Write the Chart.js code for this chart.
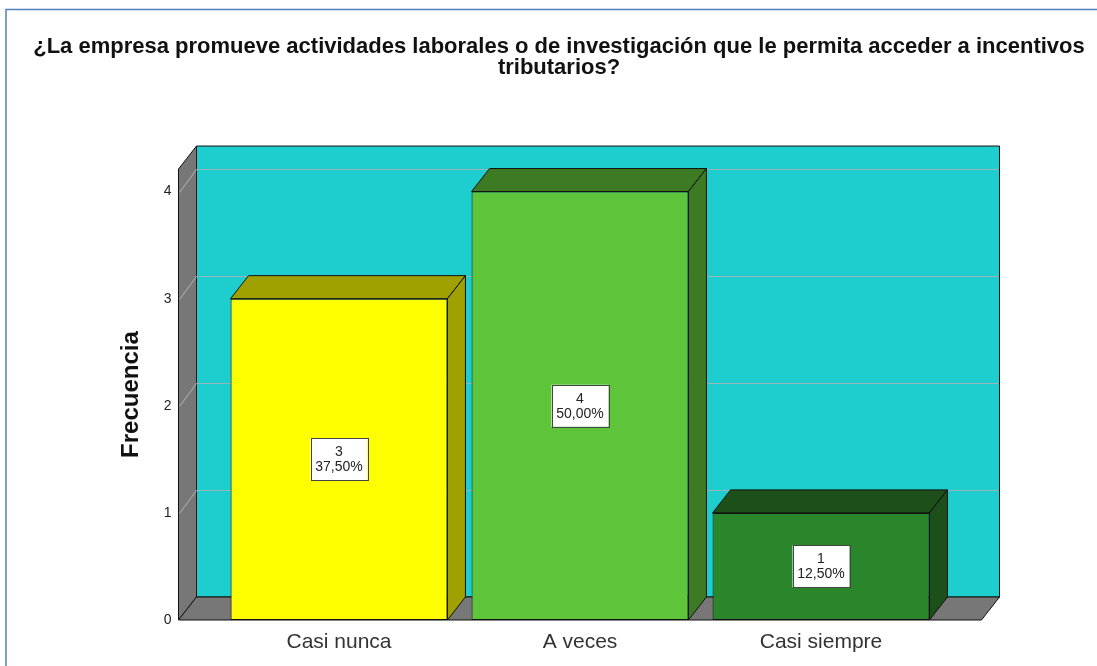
<!DOCTYPE html>
<html>
<head>
<meta charset="utf-8">
<script src="https://cdn.jsdelivr.net/npm/chart.js@4"></script>
<style>
html, body { margin: 0; padding: 0; background: #fff; }
</style>
</head>
<body>
<canvas id="grafico" width="1097" height="666"></canvas>
<script>
// datos
var categorias = ["Casi nunca", "A veces", "Casi siempre"];
var frecuencias = [3, 4, 1];
var ticksY = [0, 1, 2, 3, 4];
var maxY = 4.21;

// estilos
var colorFrente = ["#ffff00", "#5ec43a", "#2a862a"];
var colorLado = ["#a0a000", "#3c7a24", "#1c4f19"];
var DX = 18, DY = -23;      // profundidad 3D
var MARGEN = 40;            // ancho del suelo fuera de las barras
var fuente = "'Liberation Sans', Arial, sans-serif";

var total = frecuencias.reduce(function (a, b) { return a + b; }, 0);

function poligono(ctx, pts, relleno) {
  ctx.beginPath();
  ctx.moveTo(pts[0][0], pts[0][1]);
  for (var i = 1; i < pts.length; i++) ctx.lineTo(pts[i][0], pts[i][1]);
  ctx.closePath();
  ctx.fillStyle = relleno;
  ctx.fill();
  ctx.strokeStyle = "#111";
  ctx.lineWidth = 1;
  ctx.stroke();
}

var caja3d = {
  id: "caja3d",
  beforeDraw: function (chart) {
    var ctx = chart.ctx;
    ctx.save();
    ctx.fillStyle = "#fff";
    ctx.fillRect(0, 0, chart.width, chart.height);
    ctx.strokeStyle = "#4f81bd";
    ctx.lineWidth = 1.5;
    ctx.beginPath();
    ctx.moveTo(6, chart.height);
    ctx.lineTo(6, 9.5);
    ctx.lineTo(chart.width, 9.5);
    ctx.stroke();
    ctx.restore();
  },
  beforeDatasetsDraw: function (chart) {
    var ctx = chart.ctx, ys = chart.scales.y, a = chart.chartArea;
    var L = a.left - MARGEN, R = a.right + MARGEN;
    var y0 = ys.getPixelForValue(0), yt = ys.getPixelForValue(maxY);
    ctx.save();
    // pared del fondo
    poligono(ctx, [[L + DX, yt + DY], [R + DX, yt + DY], [R + DX, y0 + DY], [L + DX, y0 + DY]], "#1ecece");
    // pared izquierda
    poligono(ctx, [[L, yt], [L + DX, yt + DY], [L + DX, y0 + DY], [L, y0]], "#777777");
    // suelo
    poligono(ctx, [[L, y0], [L + DX, y0 + DY], [R + DX, y0 + DY], [R, y0]], "#777777");
    // rejilla
    ctx.strokeStyle = "rgba(175,175,175,0.85)";
    ctx.lineWidth = 1.2;
    ticksY.forEach(function (v) {
      if (v === 0) return;
      var py = Math.round(ys.getPixelForValue(v)) + 0.5;
      ctx.beginPath();
      ctx.moveTo(L + 1, py);
      ctx.lineTo(L + DX, py + DY);
      ctx.lineTo(R + DX - 1, py + DY);
      ctx.stroke();
    });
    ctx.restore();
  },
  afterDatasetsDraw: function (chart) {
    var ctx = chart.ctx;
    var meta = chart.getDatasetMeta(0);
    ctx.save();
    meta.data.forEach(function (el, i) {
      var l = el.x - el.width / 2, r = el.x + el.width / 2;
      var top = el.y, base = el.base;
      poligono(ctx, [[l, top], [l + DX, top + DY], [r + DX, top + DY], [r, top]], colorLado[i]);
      poligono(ctx, [[r, top], [r + DX, top + DY], [r + DX, base + DY], [r, base]], colorLado[i]);
    });
    // etiquetas de valor
    meta.data.forEach(function (el, i) {
      var v = frecuencias[i];
      var pct = (v / total * 100).toFixed(2).replace(".", ",") + "%";
      var cy = (el.y + el.base) / 2;
      var w = 57, h = 42;
      ctx.fillStyle = "#fff";
      ctx.fillRect(el.x - w / 2, cy - h / 2, w, h);
      ctx.strokeStyle = "#444";
      ctx.lineWidth = 1;
      ctx.strokeRect(Math.round(el.x - w / 2) + 0.5, Math.round(cy - h / 2) + 0.5, w, h);
      ctx.fillStyle = "#222";
      ctx.font = "14px " + fuente;
      ctx.textAlign = "center";
      ctx.textBaseline = "middle";
      ctx.fillText(String(v), el.x, cy - 7);
      ctx.fillText(pct, el.x, cy + 8);
    });
    ctx.restore();
  }
};

var ctx = document.getElementById("grafico").getContext("2d");
var grafico = new Chart(ctx, {
  type: "bar",
  data: {
    labels: categorias,
    datasets: [{
      label: "Frecuencia",
      data: frecuencias,
      backgroundColor: colorFrente,
      borderColor: "#111",
      borderWidth: 1,
      borderSkipped: false,
      barPercentage: 0.9,
      categoryPercentage: 1
    }]
  },
  options: {
    responsive: false,
    animation: false,
    layout: { padding: { left: 21, right: 0, top: 0, bottom: 0 } },
    plugins: {
      legend: { display: false },
      tooltip: { enabled: false },
      title: {
        display: true,
        text: ["¿La empresa promueve actividades laborales o de investigación que le permita acceder a incentivos", "tributarios?"],
        color: "#111",
        font: { family: fuente, size: 22, weight: "bold", lineHeight: 0.96 },
        padding: { top: 36.5, bottom: 90.3 }
      }
    },
    scales: {
      x: {
        afterFit: function (s) { s.height = 46; },
        grid: { display: false, drawTicks: false },
        border: { display: false },
        ticks: { color: "#333", padding: 10, font: { family: fuente, size: 21 } }
      },
      y: {
        position: "left",
        min: 0,
        max: maxY,
        afterBuildTicks: function (s) {
          s.ticks = ticksY.map(function (v) { return { value: v }; });
        },
        afterFit: function (s) {
          s.width = 197.5;
          s.paddingTop = 0;
          s.paddingBottom = 0;
        },
        grid: { display: false, drawTicks: false },
        border: { display: false },
        ticks: { color: "#222", padding: 47, font: { family: fuente, size: 14 } },
        title: {
          display: true,
          text: "Frecuencia",
          color: "#111",
          font: { family: fuente, size: 24, weight: "bold", lineHeight: 1.2 },
          padding: { top: 96, bottom: 0 }
        }
      },
      y2: {
        position: "right",
        afterFit: function (s) { s.width = 155.5; },
        grid: { display: false, drawTicks: false },
        border: { display: false },
        ticks: { display: false }
      }
    }
  },
  plugins: [caja3d]
});
</script>
</body>
</html>
